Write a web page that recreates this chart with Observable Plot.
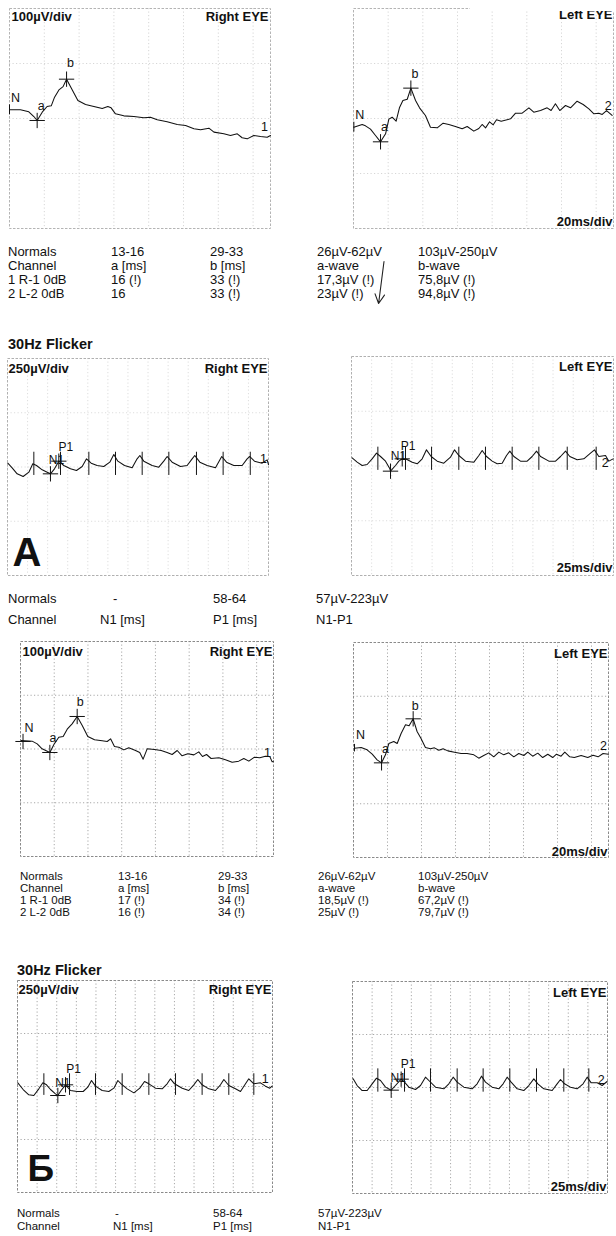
<!DOCTYPE html>
<html><head><meta charset="utf-8">
<script src="https://cdn.jsdelivr.net/npm/d3@7"></script>
<script src="https://cdn.jsdelivr.net/npm/@observablehq/plot@0.6"></script>
<style>
body{margin:0;background:#fff;}
#page{position:relative;width:616px;height:1236px;overflow:hidden;background:#fff;font-family:"Liberation Sans",Arial,Helvetica,sans-serif;color:#111;}
.abs{position:absolute;white-space:nowrap;}
</style></head><body><div id="page"></div>
<script>
// ---------- DATA ----------
// ERG traces: [time ms, amplitude µV]
const ergA_Right = [[0,15.8],[6.3,15.8],[11.1,12.1],[14,3.6],[15.9,-3.6],[18.8,11.5],[21.6,21.8],[24,23],[25.9,38.8],[28.4,52],[30.8,58],[32.8,71.5],[35.4,55.8],[39.3,32.7],[43.7,25.5],[48.5,21.8],[53.3,18.2],[56.5,21.8],[58.4,19.4],[60.9,8.5],[65.7,4.8],[71.5,3.6],[77.2,1.2],[81,2.4],[84.9,-2.4],[90.6,-6],[96.4,-11],[101.2,-12.7],[106,-18.8],[109.8,-20.6],[114.6,-17.6],[117.5,-24.8],[123.2,-27.9],[127,-31],[130.9,-27.9],[133.7,-35],[136.6,-37],[140.4,-31],[144.3,-32.7],[148.1,-34],[150,-31]];
const ergA_Left = [[0.2,-15.8],[5,-10.9],[6.9,-13.3],[9.8,-19.4],[12.7,-30.9],[15.6,-42.4],[18.5,-27.9],[20.4,-1.2],[22.3,2.4],[24.6,-4.8],[26.5,19.4],[28.5,32.7],[31,35],[33.1,55.2],[35.8,32.7],[38.1,19.4],[41.5,5.5],[44.4,-15.8],[48.3,-17],[51.7,-8.5],[55,-10.9],[58.8,-14.5],[62.7,-18.8],[65.6,-14.5],[69.4,-23],[72.3,-18.2],[74.2,-10.9],[76.2,-17],[78.5,-6],[80.6,-11.5],[82.5,-2.4],[85.2,-4.8],[90.6,-0.6],[93.5,9.7],[97.3,9.7],[101.2,19.4],[104,11.5],[107.9,14.5],[111.7,19.4],[114,14.5],[116.5,26.7],[119,14.5],[122.3,23.6],[125.2,19.4],[129,31.5],[132.5,25.5],[135.8,17.6],[138.7,8.5],[141.5,9.7],[143.5,7.3],[146,14.5],[149.2,5.5]];
const ergB_Right = [[0.4,15.8],[6.9,14.6],[9.9,9.6],[12.8,0.3],[17.4,-6.5],[19.8,8.4],[22.7,22],[25.3,23.3],[27.7,36.9],[30.6,46.8],[33.6,60.5],[36.6,43.7],[39.9,23.3],[43.9,17.1],[48.4,15.2],[51.4,14],[53.4,18.9],[55.7,4.7],[58.3,3.4],[61.3,-1.6],[64.2,2.2],[68.2,-2.8],[70.7,-6.5],[72.7,-18.9],[75.1,0.3],[79.4,-0.9],[83.4,-2.8],[86.9,-6.5],[89.9,-10.2],[92.9,-2.8],[95.8,-12.7],[99.2,-9],[102.8,-10.9],[105.7,-5.3],[107.9,-14],[110.3,-10.2],[113,-17.7],[117.6,-16.4],[121.5,-20.2],[125.5,-24.5],[129.4,-22.6],[132.4,-17.7],[135.4,-22.6],[138.7,-15.2],[141.9,-16.4],[145.2,-13.3],[147.8,-14],[149.2,-23.9],[150,-22.6]];
const ergB_Left = [[0.6,3.4],[4.5,4.7],[8,0.3],[11,-7.8],[13.9,-18.3],[16.5,-23.9],[18.8,-9],[20.8,12.1],[23.7,15.8],[25.7,12.1],[28,30.7],[30.6,46.8],[32.7,45],[35.1,58],[37.4,34.4],[39.8,20.8],[42.3,4.7],[45.3,2.2],[47.6,4],[50.2,-0.3],[52.7,2.2],[55.5,-1.6],[59.4,-4],[63.3,-6.5],[66.8,-6.5],[70.8,-9],[73.7,-15.2],[76.6,-10.2],[79.6,-5.3],[82.5,-12.7],[85.5,-4],[88.4,-9],[91.3,-5.3],[94.3,-12.7],[97.2,-6.5],[100.2,-10.2],[102.5,-4],[105.4,-11.5],[108.4,-5.9],[111.3,-14],[114.3,-7.8],[117.2,-14],[119.4,-7.8],[122.1,-11.5],[124.3,-4],[127.2,-12.7],[129.9,-14],[133.9,-10.2],[137.8,-14],[140.9,-9.6],[143.9,-12.7],[146.8,-6.5],[150,-7.8]];

// 30Hz flicker traces: [time ms, amplitude µV]
const flkA_Right = [[0.4,17.7],[5.8,-3.8],[12,-31.5],[19.5,-43.8],[26.6,-23.8],[31.5,14.6],[36.1,6.9],[43.2,-13.1],[49.4,-23.8],[53.5,-31.5],[58.5,-8.4],[63.9,26.9],[70.1,6.9],[78.4,-8.4],[85.9,-16.1],[93,2.3],[98.4,37.6],[104.2,17.7],[111.6,6.9],[119.9,2.3],[127.4,22.3],[132.4,57.6],[137.4,26.9],[145.7,6.9],[155.2,-3.8],[161.4,37.6],[164.8,53],[169.7,26.9],[180.1,6.9],[188.4,-0.8],[194.6,26.9],[198.8,48.4],[205,22.3],[215.4,2.3],[223.7,6.9],[229.9,37.6],[233.2,53],[239.5,22.3],[248.6,6.9],[259,-3.8],[265.2,37.6],[266.8,48.4],[272.7,22.3],[281.8,6.9],[292.2,6.9],[298.4,37.6],[301.7,48.4],[307.5,26.9],[317.1,17.7],[323.3,33],[325,11.5]];
const flkA_Left = [[0.8,37.3],[7,17.5],[13.2,2.3],[19.4,6.8],[25.6,32.7],[31,58.6],[36,43.4],[42.2,22.1],[47.6,-12.9],[48.4,-23.6],[54.6,2.3],[58.7,22.1],[62.9,32.7],[68.2,31.2],[75.3,17.5],[81.5,9.9],[87.7,32.7],[93,73.8],[98.8,43.4],[106.3,22.1],[114.5,12.9],[122.8,40.3],[127.8,73.8],[133.1,47.9],[141.4,22.1],[151.8,17.5],[158,47.9],[162.1,70.8],[167.5,43.4],[174.5,22.1],[180.7,9.9],[186.9,12.9],[192.3,47.9],[196.4,67.7],[201.4,43.4],[209.6,22.1],[217.9,22.1],[224.1,43.4],[229.5,67.7],[234.5,43.4],[244.8,22.1],[253.1,22.1],[259.3,43.4],[265.5,67.7],[270.8,43.4],[279.9,28.2],[288.2,32.7],[296.5,58.6],[301.4,73.8],[306.8,43.4],[315.1,47.9],[319.2,22.1],[324.6,32.7]];
const flkB_Right = [[0.4,17.3],[7.2,-14.2],[14.4,-39.3],[20.8,-42.5],[27.2,-11],[32.3,17.3],[37,7.9],[42.1,-14.2],[48.4,-34.6],[51.4,-42.5],[55.6,-18.9],[61.2,7.9],[67.5,-18.9],[76,-23.6],[83.7,-23.6],[89.6,-3.1],[94.3,28.3],[99.4,1.6],[107.9,-18.9],[116.4,-23.6],[122.8,-7.9],[127.9,28.3],[132.1,12.6],[139.8,-11],[148.3,-29.9],[155.9,-7.9],[161.9,23.6],[167.4,12.6],[175.9,-7.9],[184.4,-11],[190.7,12.6],[195,36.2],[200.1,12.6],[209.9,-7.9],[218.3,-18.9],[224.7,7.9],[229.8,33],[235.3,7.9],[243.8,-11],[252.3,-18.9],[258.7,7.9],[263,33],[269.3,4.7],[277.8,-11],[284.2,-23.6],[290.6,12.6],[294.8,36.2],[301.2,12.6],[309.7,17.3],[316,1.6],[321.6,-7.9],[324.5,1.6]];
const flkB_Left = [[0.8,40.9],[5.9,9.4],[12.3,-14.2],[18.7,-14.2],[25.1,17.3],[30.6,44],[35.7,33],[42.1,1.6],[49.3,-12.6],[54.8,9.4],[62,39.3],[66.3,25.2],[71.8,1.6],[80.3,-9.4],[86.7,9.4],[93,48.7],[98.6,28.3],[105.8,1.6],[116.4,-6.3],[122.8,17.3],[128.3,48.7],[133.4,25.2],[141.9,1.6],[152.5,-6.3],[158.9,17.3],[164.4,53.5],[169.5,25.2],[178,1.6],[186.5,-6.3],[192,17.3],[197.1,48.7],[202.2,25.2],[209.9,-6.3],[218.3,-14.2],[224.7,9.4],[231.1,40.9],[236.2,17.3],[243.8,-6.3],[254.5,-14.2],[260.8,17.3],[265.1,37.7],[270.2,17.3],[277.8,1.6],[286.3,-6.3],[293.9,17.3],[299.1,48.7],[304.2,22],[311.8,22],[318.2,9.4],[324.5,28.3]];

// Marker points (N, a, b / N1, P1)
const ergA_RightMarks = {N:[0,15.8], a:[15.9,-3.6], b:[32.8,71.5]};
const ergA_LeftMarks  = {N:[0.2,-15.8], a:[15.6,-42.4], b:[33.1,55.2]};
const ergB_RightMarks = {N:[1.5,14], a:[17.4,-6.5], b:[33.6,60.5]};
const ergB_LeftMarks  = {N:[0.6,3.4], a:[16.5,-23.9], b:[35.1,58]};
const flkA_RightMarks = {N1:[53.5,-31.5], P1:[63.9,26.9]};
const flkA_LeftMarks  = {N1:[48.4,-23.6], P1:[62.9,32.7]};
const flkB_RightMarks = {N1:[51.4,-42.5], P1:[61.2,7.9]};
const flkB_LeftMarks  = {N1:[49.3,-12.6], P1:[62,39.3]};

// Period markers on flicker traces (ms) and their extent (µV)
const flkA_RightTicks = [32.8,66,101.3,134.5,167.7,200.9,235.3,268.5,302.3];
const flkA_LeftTicks  = [32.7,67,99.3,133.1,166.2,199.3,232.4,267.6,303.5];
const flkB_RightTicks = [33.6,66.3,99.4,133.4,167.4,201.4,235.3,269.3,301.2];
const flkB_LeftTicks  = [32.3,66.3,99.4,133.4,166.5,200.5,234.5,269.3,301.2];
const flkA_RightTickSpan = [-39,68];
const flkA_LeftTickSpan  = [-20,86];
const flkB_RightTickSpan = [-42,60];
const flkB_LeftTickSpan  = [-22,88];

// Grid / scale definitions
const ergDomainX = [0,150], ergDomainY = [-200,200];
const flkDomainX = [0,325], flkDomainY = [-500,500];
const ergGridX = [20,40,60,80,100,120,140];
const ergGridY = [-100,0,100];
const flkGridX = [25,50,75,100,125,150,175,200,225,250,275,300];
const flkGridY = [-250,0,250];

// Tables
const ergTableA = [
  ["Normals","13-16","29-33","26µV-62µV","103µV-250µV"],
  ["Channel","a [ms]","b [ms]","a-wave","b-wave"],
  ["1 R-1 0dB","16 (!)","33 (!)","17,3µV (!)","75,8µV (!)"],
  ["2 L-2 0dB","16","33 (!)","23µV (!)","94,8µV (!)"]
];
const ergTableB = [
  ["Normals","13-16","29-33","26µV-62µV","103µV-250µV"],
  ["Channel","a [ms]","b [ms]","a-wave","b-wave"],
  ["1 R-1 0dB","17 (!)","34 (!)","18,5µV (!)","67,2µV (!)"],
  ["2 L-2 0dB","16 (!)","34 (!)","25µV (!)","79,7µV (!)"]
];
const flkTable = [
  ["Normals","-","58-64","57µV-223µV"],
  ["Channel","N1 [ms]","P1 [ms]","N1-P1"]
];
const arrowNote = [{x1:0.75, y1:1, x2:0.45, y2:0}];

// ---------- DRAW ----------
const FONT = '"Liberation Sans", Arial, Helvetica, sans-serif';
const page = document.getElementById("page");

function addText(str, x, baseline, size, bold) {
  const d = document.createElement("div");
  d.className = "abs";
  d.textContent = str;
  d.style.left = x + "px";
  d.style.top = (baseline - 0.8465 * size) + "px";
  d.style.fontSize = size + "px";
  d.style.lineHeight = size + "px";
  if (bold) d.style.fontWeight = "bold";
  page.appendChild(d);
}

function place(chart, left, top) {
  chart.style.position = "absolute";
  chart.style.left = left + "px";
  chart.style.top = top + "px";
  page.appendChild(chart);
}

function drawPanel(c) {
  const m = 3;
  const pt = p => ({t: p[0], v: p[1]});
  const marks = [
    Plot.ruleX(c.gridX, {stroke: c.grid, strokeWidth: 1, strokeDasharray: "1.2,2.3"}),
    Plot.ruleY(c.gridY, {stroke: c.grid, strokeWidth: 1, strokeDasharray: "1.2,2.3"}),
    Plot.frame({stroke: c.frame, strokeWidth: 1, strokeDasharray: "2.5,1.5"})
  ];
  if (c.ticks) marks.push(Plot.ruleX(c.ticks, {y1: c.tickSpan[0], y2: c.tickSpan[1], stroke: "#151515", strokeWidth: 1}));
  marks.push(Plot.line(c.trace, {x: d => d[0], y: d => d[1], stroke: "#111", strokeWidth: 1.05, strokeLinejoin: "round"}));
  if (c.cross.length) marks.push(Plot.dot(c.cross.map(pt), {x: "t", y: "v", symbol: "plus", r: 5, stroke: "#111", strokeWidth: 1}));
  if (c.nTick) marks.push(Plot.ruleX([pt(c.nTick)], {x: "t", y1: d => d.v - c.nTickHalf, y2: d => d.v + c.nTickHalf, stroke: "#111", strokeWidth: 1}));
  for (const l of c.labels) {
    marks.push(Plot.text([pt(l.p)], {x: "t", y: "v", text: () => l.s, dx: l.dx, dy: l.dy,
      fontSize: l.size || 12.5, fill: "#111", fontFamily: FONT, textAnchor: "middle", lineAnchor: "middle"}));
  }
  for (const tl of c.titles) {
    marks.push(Plot.text([tl.s], {frameAnchor: tl.anchor, textAnchor: tl.anchor.endsWith("left") ? "start" : "end",
      lineAnchor: "bottom", dx: tl.dx, dy: tl.dy, fontSize: tl.size || 13, fontWeight: "bold", fill: "#111", fontFamily: FONT}));
  }
  const chart = Plot.plot({
    width: c.w + 2 * m, height: c.h + 2 * m, margin: m,
    x: {domain: c.xd, axis: null}, y: {domain: c.yd, axis: null},
    style: {background: "transparent", overflow: "visible", fontFamily: FONT, color: "#111"},
    marks
  });
  place(chart, c.left - m, c.top - m);
}

const last = a => a[a.length - 1];

// Section A – ERG
drawPanel({left: 9, top: 8, w: 261, h: 220, xd: ergDomainX, yd: ergDomainY, gridX: ergGridX, gridY: ergGridY,
  grid: "#d6d6d6", frame: "#b4b4b4", trace: ergA_Right,
  cross: [ergA_RightMarks.a, ergA_RightMarks.b], nTick: ergA_RightMarks.N, nTickHalf: 9,
  labels: [{p: ergA_RightMarks.N, s: "N", dx: 6, dy: -12}, {p: ergA_RightMarks.a, s: "a", dx: 4, dy: -14},
           {p: ergA_RightMarks.b, s: "b", dx: 4, dy: -16}, {p: last(ergA_Right), s: "1", dx: -6, dy: -9}],
  titles: [{s: "100µV/div", anchor: "top-left", dx: 2, dy: 12}, {s: "Right EYE", anchor: "top-right", dx: -2, dy: 12}]});

drawPanel({left: 353, top: 8, w: 260, h: 220, xd: ergDomainX, yd: ergDomainY, gridX: ergGridX, gridY: ergGridY,
  grid: "#d6d6d6", frame: "#b4b4b4", trace: ergA_Left,
  cross: [ergA_LeftMarks.a, ergA_LeftMarks.b], nTick: ergA_LeftMarks.N, nTickHalf: 9,
  labels: [{p: ergA_LeftMarks.N, s: "N", dx: 6, dy: -12}, {p: ergA_LeftMarks.a, s: "a", dx: 4, dy: -15},
           {p: ergA_LeftMarks.b, s: "b", dx: 4, dy: -14}, {p: last(ergA_Left), s: "2", dx: -4, dy: -9}],
  titles: [{s: "Left EYE", anchor: "top-right", dx: -1, dy: 10}, {s: "20ms/div", anchor: "bottom-right", dx: -1, dy: -3}]});

// Section A – Flicker
drawPanel({left: 7, top: 358, w: 261, h: 217, xd: flkDomainX, yd: flkDomainY, gridX: flkGridX, gridY: flkGridY,
  grid: "#dddddd", frame: "#b0b0b0", trace: flkA_Right, ticks: flkA_RightTicks, tickSpan: flkA_RightTickSpan,
  cross: [flkA_RightMarks.N1, flkA_RightMarks.P1],
  labels: [{p: flkA_RightMarks.P1, s: "P1", dx: 7, dy: -14, size: 12}, {p: flkA_RightMarks.N1, s: "N1", dx: 6, dy: -14, size: 12},
           {p: last(flkA_Right), s: "1", dx: -5, dy: -6}],
  titles: [{s: "250µV/div", anchor: "top-left", dx: 1, dy: 14}, {s: "Right EYE", anchor: "top-right", dx: -1, dy: 14},
           {s: "А", anchor: "bottom-left", dx: 5, dy: -10, size: 40}]});

drawPanel({left: 351, top: 356, w: 262, h: 219, xd: flkDomainX, yd: flkDomainY, gridX: flkGridX, gridY: flkGridY,
  grid: "#dddddd", frame: "#b0b0b0", trace: flkA_Left, ticks: flkA_LeftTicks, tickSpan: flkA_LeftTickSpan,
  cross: [flkA_LeftMarks.N1, flkA_LeftMarks.P1],
  labels: [{p: flkA_LeftMarks.P1, s: "P1", dx: 6, dy: -13, size: 12}, {p: flkA_LeftMarks.N1, s: "N1", dx: 8, dy: -15, size: 12},
           {p: last(flkA_Left), s: "2", dx: -8, dy: 4}],
  titles: [{s: "Left EYE", anchor: "top-right", dx: -1, dy: 14}, {s: "25ms/div", anchor: "bottom-right", dx: -1, dy: -4}]});

// Section Б – ERG
drawPanel({left: 20, top: 641, w: 253, h: 215, xd: ergDomainX, yd: ergDomainY, gridX: ergGridX, gridY: ergGridY,
  grid: "#a8a8a8", frame: "#8a8a8a", trace: ergB_Right,
  cross: [ergB_RightMarks.N, ergB_RightMarks.a, ergB_RightMarks.b],
  labels: [{p: ergB_RightMarks.N, s: "N", dx: 6, dy: -13}, {p: ergB_RightMarks.a, s: "a", dx: 3, dy: -14},
           {p: ergB_RightMarks.b, s: "b", dx: 3, dy: -14}, {p: last(ergB_Right), s: "1", dx: -6, dy: -8}],
  titles: [{s: "100µV/div", anchor: "top-left", dx: 2, dy: 14}, {s: "Right EYE", anchor: "top-right", dx: -1, dy: 14}]});

drawPanel({left: 353, top: 642, w: 255, h: 215, xd: ergDomainX, yd: ergDomainY, gridX: ergGridX, gridY: ergGridY,
  grid: "#a8a8a8", frame: "#8a8a8a", trace: ergB_Left,
  cross: [ergB_LeftMarks.a, ergB_LeftMarks.b], nTick: ergB_LeftMarks.N, nTickHalf: 7,
  labels: [{p: ergB_LeftMarks.N, s: "N", dx: 6, dy: -13}, {p: ergB_LeftMarks.a, s: "a", dx: 4, dy: -14},
           {p: ergB_LeftMarks.b, s: "b", dx: 2, dy: -13}, {p: last(ergB_Left), s: "2", dx: -5, dy: -8}],
  titles: [{s: "Left EYE", anchor: "top-right", dx: -1, dy: 15}, {s: "20ms/div", anchor: "bottom-right", dx: -1, dy: -2}]});

// Section Б – Flicker
drawPanel({left: 17, top: 980, w: 255, h: 212, xd: flkDomainX, yd: flkDomainY, gridX: flkGridX, gridY: flkGridY,
  grid: "#a8a8a8", frame: "#8a8a8a", trace: flkB_Right, ticks: flkB_RightTicks, tickSpan: flkB_RightTickSpan,
  cross: [flkB_RightMarks.N1, flkB_RightMarks.P1],
  labels: [{p: flkB_RightMarks.P1, s: "P1", dx: 8, dy: -16, size: 12}, {p: flkB_RightMarks.N1, s: "N1", dx: 5, dy: -12, size: 12},
           {p: last(flkB_Right), s: "1", dx: -7, dy: -7}],
  titles: [{s: "250µV/div", anchor: "top-left", dx: 1, dy: 13}, {s: "Right EYE", anchor: "top-right", dx: -1, dy: 13},
           {s: "Б", anchor: "bottom-left", dx: 10, dy: -12, size: 37}]});

drawPanel({left: 352, top: 981, w: 255, h: 212, xd: flkDomainX, yd: flkDomainY, gridX: flkGridX, gridY: flkGridY,
  grid: "#a8a8a8", frame: "#8a8a8a", trace: flkB_Left, ticks: flkB_LeftTicks, tickSpan: flkB_LeftTickSpan,
  cross: [flkB_LeftMarks.N1, flkB_LeftMarks.P1],
  labels: [{p: flkB_LeftMarks.P1, s: "P1", dx: 7, dy: -15, size: 12}, {p: flkB_LeftMarks.N1, s: "N1", dx: 7, dy: -12, size: 12},
           {p: last(flkB_Left), s: "2", dx: -6, dy: -2}],
  titles: [{s: "Left EYE", anchor: "top-right", dx: -1, dy: 15}, {s: "25ms/div", anchor: "bottom-right", dx: -1, dy: -3}]});

// Tables and headings
function drawTable(rows, colX, baselines, size) {
  rows.forEach((row, r) => row.forEach((s, c) => addText(s, colX[r][c], baselines[r], size, false)));
}
const colsA = [8,111,210,317,418], colsB = [20,118,218,318,418];
drawTable(ergTableA, [colsA, colsA, colsA, colsA], [256.5,270.5,284.5,298.5], 13);
drawTable(ergTableB, [colsB, colsB, colsB, colsB], [881,893,905,917], 11.5);
drawTable(flkTable, [[8,113,213,316],[8,100,213,316]], [603,624], 13);
drawTable(flkTable, [[17,115,213,318],[17,113,213,318]], [1218,1230.5], 11.5);
addText("30Hz Flicker", 8, 349, 14.5, true);
addText("30Hz Flicker", 17, 975, 14.5, true);

// Hand-drawn arrow annotation next to the a-wave values
const arrowChart = Plot.plot({
  width: 18, height: 42, margin: 0,
  x: {domain: [0, 1], axis: null}, y: {domain: [0, 1], axis: null},
  style: {background: "transparent", overflow: "visible"},
  marks: [Plot.arrow(arrowNote, {x1: "x1", y1: "y1", x2: "x2", y2: "y2", stroke: "#222", strokeWidth: 1.1, headLength: 14, headAngle: 55})]
});
place(arrowChart, 370, 261);

// scan cut at the top-right corner
const cut = document.createElement("div");
cut.style.cssText = "position:absolute;left:470px;top:0;width:146px;height:11px;background:#fff;";
page.appendChild(cut);
</script></body></html>
